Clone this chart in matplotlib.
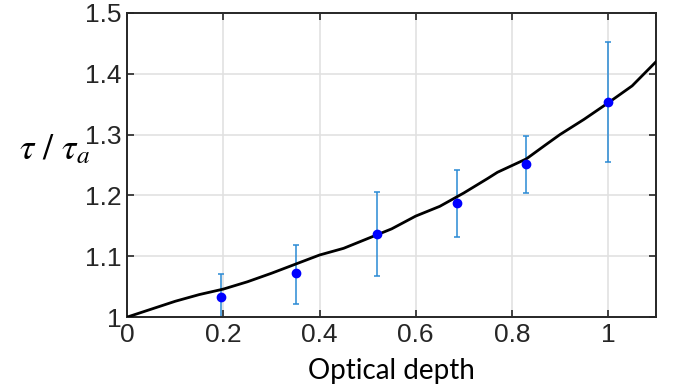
import numpy as np
import matplotlib
matplotlib.use('Agg')
import matplotlib.pyplot as plt

# model curve
curve_x = [0, 0.05, 0.1, 0.15, 0.2, 0.25, 0.3, 0.35, 0.4, 0.45, 0.5, 0.55, 0.6, 0.65,
           0.7, 0.75, 0.77, 0.8, 0.83, 0.87, 0.9, 0.95, 1.0, 1.05, 1.1]
curve_y = [1.0, 1.013, 1.026, 1.037, 1.046, 1.058, 1.072, 1.087, 1.102, 1.113, 1.129,
           1.145, 1.166, 1.182, 1.204, 1.228, 1.238, 1.249, 1.26, 1.283, 1.300, 1.325,
           1.352, 1.38, 1.42]

# measured points with error bars
pt_x = [0.195, 0.35, 0.52, 0.685, 0.83, 1.0]
pt_y = [1.033, 1.072, 1.136, 1.187, 1.251, 1.354]
err_hi = [1.071, 1.119, 1.205, 1.241, 1.297, 1.452]
err_lo = [0.995, 1.022, 1.067, 1.131, 1.204, 1.255]

plt.rcParams['font.family'] = ['Liberation Sans', 'DejaVu Sans']
plt.rcParams['mathtext.fontset'] = 'stix'

fig = plt.figure(figsize=(6.73, 3.90), dpi=100)
ax = fig.add_axes([0.189, 0.187, 0.786, 0.780])

ax.grid(True, color='#e1e1e1', lw=1.2)
ax.set_axisbelow(True)

yerr = [np.array(pt_y) - np.array(err_lo), np.array(err_hi) - np.array(pt_y)]
ax.errorbar(pt_x, pt_y, yerr=yerr, fmt='none', ecolor='#2a8ad4', elinewidth=1.1,
            capsize=2.5, capthick=1.1, zorder=2)
ax.plot(curve_x, curve_y, color='black', lw=2, zorder=3)
ax.plot(pt_x, pt_y, 'o', color='#0000ff', ms=6, zorder=4, clip_on=False)

ax.set_xlim(0, 1.1)
ax.set_ylim(1, 1.5)
ax.set_xticks([0, 0.2, 0.4, 0.6, 0.8, 1])
ax.set_xticklabels(['0', '0.2', '0.4', '0.6', '0.8', '1'])
ax.set_yticks([1, 1.1, 1.2, 1.3, 1.4, 1.5])
ax.set_yticklabels(['1', '1.1', '1.2', '1.3', '1.4', '1.5'])

ax.tick_params(direction='in', top=True, right=True, length=5, width=1.2,
               colors='#262626', labelsize=19, pad=4)
for s in ax.spines.values():
    s.set_color('#262626')
    s.set_linewidth(1.4)

ax.set_xlabel('Optical depth', fontsize=20, family='Lato', labelpad=8)
fig.text(0.028, 0.615, r'$\tau\ /\ \tau_a$', fontsize=26, ha='left', va='center')

fig.savefig('out.png', dpi=100)
